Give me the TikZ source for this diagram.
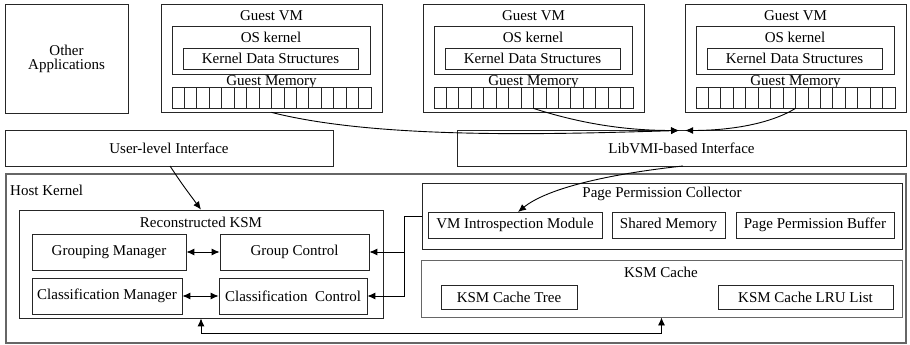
\documentclass[tikz,border=0pt]{standalone}
\usepackage{fontspec}
\setmainfont{Liberation Serif}
\usetikzlibrary{arrows.meta}
\tikzset{
  box/.style={draw=black!85, line width=0.8pt, inner sep=0pt, fill=white},
  graybox/.style={draw=black!60, line width=1.1pt, inner sep=0pt, fill=white},
  lbl/.style={font=\fontsize{15}{15}\selectfont, inner sep=0pt},
  cell/.style={draw=black!85, line width=0.8pt},
  arr/.style={-{Latex[length=8pt,width=7pt]}, line width=0.9pt},
  darr/.style={{Latex[length=8pt,width=7pt]}-{Latex[length=8pt,width=7pt]}, line width=0.9pt},
}
% \bbox[opts]{name}{x1}{y1}{x2}{y2}{text}
\newcommand\bbox[7][]{%
  \node[box, lbl, #1, minimum width={((#5)-(#3))*1pt}, minimum height={((#6)-(#4))*1pt}]
    (#2) at ({((#3)+(#5))/2},{((#4)+(#6))/2}) {#7};
}
\newcommand\guestvm[2]{%
  \bbox{vm#1}{#2}{4}{#2+221}{112}{}
  \node[lbl] (vmt#1) at ({#2+110.5},16) {Guest VM};
  \bbox{os#1}{#2+11}{26}{#2+209}{74}{}
  \node[lbl] (ost#1) at ({#2+110},37) {OS kernel};
  \bbox{kds#1}{#2+22}{48}{#2+197}{69}{Kernel Data Structures}
  \node[lbl] (gmt#1) at ({#2+110.5},82.5) {Guest Memory};
  \bbox{mem#1}{#2+11}{87}{#2+210}{108}{}
  \foreach \i in {1,...,15} \draw[cell] ({#2+11+\i*12.4375},87) -- ++(0,21);
}
\begin{document}
\begin{tikzpicture}[x=1pt, y=-1pt]
\useasboundingbox (0,0) rectangle (910,345);

% top row
\bbox[align=center]{other}{5}{4}{128}{113}{Other\\[-1pt]Applications}
\guestvm{1}{161}
\guestvm{2}{423}
\guestvm{3}{685}

% interfaces
\bbox{uli}{5}{130}{333}{166}{User-level Interface}
\bbox{lib}{457}{130}{906}{166}{LibVMI-based Interface}

% host kernel
\bbox[graybox]{host}{6}{174}{906}{343}{}
\node[lbl, anchor=west] (hostt) at (10,190) {Host Kernel};

% reconstructed KSM
\bbox{rksm}{19}{210}{383}{318}{}
\node[lbl] (rksmt) at (201,222) {Reconstructed KSM};
\bbox{gman}{32}{234}{186}{270}{Grouping Manager}
\bbox{gc}{220}{234}{369}{270}{Group Control}
\bbox{cman}{32}{278}{182}{314}{Classification Manager}
\bbox{cc}{219}{278}{367}{314}{Classification\ \ Control}

% page permission collector
\bbox{ppc}{422}{183}{902}{249}{}
\node[lbl] (ppct) at (662,194) {Page Permission Collector};
\bbox{vmi}{428}{212}{602}{238}{VM Introspection Module}
\bbox{shm}{612}{212}{725}{238}{Shared Memory}
\bbox{ppb}{736}{212}{894}{238}{Page Permission Buffer}

% KSM cache
\bbox[graybox, line width=0.9pt]{kc}{421}{260}{902}{317}{}
\node[lbl] (kct) at (661,272) {KSM Cache};
\bbox{kctree}{441}{285}{577}{309}{KSM Cache Tree}
\bbox{kcl}{718}{285}{893}{309}{KSM Cache LRU List}

% connectors
\coordinate (tipL) at (679,130.5);
\coordinate (tipR) at (685,130.5);
\draw[arr] (vm1.south) .. controls (380,140) and (560,134) .. (tipL);
\draw[arr] (mem2.south) .. controls (585,125) and (630,130.5) .. (tipL);
\draw[arr] (mem3.south) .. controls (770,124) and (730,130.5) .. (tipR);

\draw[arr] (170,166) .. controls (182,184) .. (rksm.north);
\draw[arr] (683,166) .. controls (600,175) and (545,190) .. (518,212);

\coordinate (jx) at (404,216);
\draw[line width=0.9pt] (ppc.west) -- (jx);
\draw[arr] (jx) |- (gc.east);
\draw[arr] (jx) |- (cc.east);

\draw[darr] (gman.east) -- (gc.west);
\draw[darr] (cman.east) -- (cc.west);

\draw[darr] (rksm.south) -- ++(0,15) -| (kc.south);
\end{tikzpicture}
\end{document}
